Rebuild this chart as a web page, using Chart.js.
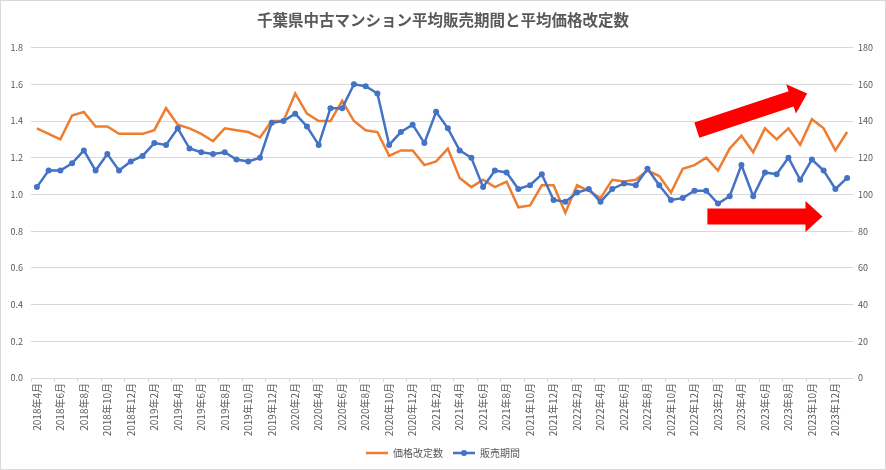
<!DOCTYPE html>
<html lang="ja">
<head>
<meta charset="utf-8">
<title>千葉県中古マンション平均販売期間と平均価格改定数</title>
<script src="https://cdn.jsdelivr.net/npm/chart.js@4.4.1/dist/chart.umd.min.js"></script>
<style>
  html, body { margin: 0; background: #fff; }
  canvas { display: block; }
</style>
</head>
<body>
<canvas id="chart" width="886" height="470"></canvas>
<script>
// ------------------------------------------------------------
// Data (monthly, 2018年4月 .. 2024年1月)
// ------------------------------------------------------------
const MONTHS = [
  '2018年4月', '2018年5月', '2018年6月', '2018年7月', '2018年8月', '2018年9月', '2018年10月', '2018年11月', '2018年12月',
  '2019年1月', '2019年2月', '2019年3月', '2019年4月', '2019年5月', '2019年6月', '2019年7月', '2019年8月', '2019年9月', '2019年10月', '2019年11月', '2019年12月',
  '2020年1月', '2020年2月', '2020年3月', '2020年4月', '2020年5月', '2020年6月', '2020年7月', '2020年8月', '2020年9月', '2020年10月', '2020年11月', '2020年12月',
  '2021年1月', '2021年2月', '2021年3月', '2021年4月', '2021年5月', '2021年6月', '2021年7月', '2021年8月', '2021年9月', '2021年10月', '2021年11月', '2021年12月',
  '2022年1月', '2022年2月', '2022年3月', '2022年4月', '2022年5月', '2022年6月', '2022年7月', '2022年8月', '2022年9月', '2022年10月', '2022年11月', '2022年12月',
  '2023年1月', '2023年2月', '2023年3月', '2023年4月', '2023年5月', '2023年6月', '2023年7月', '2023年8月', '2023年9月', '2023年10月', '2023年11月', '2023年12月',
  '2024年1月',
];

// 価格改定数 (left axis)
const PRICE_REVISIONS = [
  1.36, 1.33, 1.30, 1.43, 1.45, 1.37, 1.37, 1.33, 1.33, 1.33,
  1.35, 1.47, 1.38, 1.36, 1.33, 1.29, 1.36, 1.35, 1.34, 1.31,
  1.40, 1.40, 1.55, 1.44, 1.40, 1.40, 1.51, 1.40, 1.35, 1.34,
  1.21, 1.24, 1.24, 1.16, 1.18, 1.25, 1.09, 1.04, 1.08, 1.04,
  1.07, 0.93, 0.94, 1.05, 1.05, 0.90, 1.05, 1.02, 0.98, 1.08,
  1.07, 1.08, 1.13, 1.10, 1.01, 1.14, 1.16, 1.20, 1.13, 1.25,
  1.32, 1.23, 1.36, 1.30, 1.36, 1.27, 1.41, 1.36, 1.24, 1.34,
];

// 販売期間 (right axis)
const SALES_PERIOD = [
  104, 113, 113, 117, 124, 113, 122, 113, 118, 121,
  128, 127, 136, 125, 123, 122, 123, 119, 118, 120,
  139, 140, 144, 137, 127, 147, 147, 160, 159, 155,
  127, 134, 138, 128, 145, 136, 124, 120, 104, 113,
  112, 103, 105, 111, 97, 96, 101, 103, 96, 103,
  106, 105, 114, 105, 97, 98, 102, 102, 95, 99,
  116, 99, 112, 111, 120, 108, 119, 113, 103, 109,
];

const TITLE = '千葉県中古マンション平均販売期間と平均価格改定数';

const ORANGE = '#ED7D31';
const BLUE = '#4472C4';
const TEXT = '#595959';
const GRID = '#d9d9d9';

Chart.defaults.font.family = '"Noto Sans CJK JP", "Noto Sans", sans-serif';

// Red trend arrows, anchored in data space: [from index, from value, to index, to value] (left axis)
const TREND_ARROWS = [
  [56.2, 1.35, 65.6, 1.55],
  [57.1, 0.88, 66.9, 0.88],
];

// White background + thin frame like the Excel chart area
const chartFrame = {
  id: 'chartFrame',
  beforeDraw(chart) {
    const { ctx, width, height } = chart;
    ctx.save();
    ctx.fillStyle = '#fff';
    ctx.fillRect(0, 0, width, height);
    ctx.strokeStyle = GRID;
    ctx.lineWidth = 1;
    ctx.strokeRect(0.5, 0.5, width - 1, height - 1);
    ctx.restore();
  }
};

const trendArrows = {
  id: 'trendArrows',
  afterDatasetsDraw(chart) {
    const { ctx, scales: { x, y } } = chart;
    ctx.save();
    ctx.fillStyle = '#ff0000';
    for (const [i0, v0, i1, v1] of TREND_ARROWS) {
      const x0 = x.getPixelForValue(i0), y0 = y.getPixelForValue(v0);
      const x1 = x.getPixelForValue(i1), y1 = y.getPixelForValue(v1);
      const len = Math.hypot(x1 - x0, y1 - y0);
      const ux = (x1 - x0) / len, uy = (y1 - y0) / len; // along
      const nx = -uy, ny = ux;                         // across
      const shaft = 8, head = 15.5, headLen = 17;
      const bx = x1 - ux * headLen, by = y1 - uy * headLen;
      ctx.beginPath();
      ctx.moveTo(x0 + nx * shaft, y0 + ny * shaft);
      ctx.lineTo(bx + nx * shaft, by + ny * shaft);
      ctx.lineTo(bx + nx * head, by + ny * head);
      ctx.lineTo(x1, y1);
      ctx.lineTo(bx - nx * head, by - ny * head);
      ctx.lineTo(bx - nx * shaft, by - ny * shaft);
      ctx.lineTo(x0 - nx * shaft, y0 - ny * shaft);
      ctx.closePath();
      ctx.fill();
    }
    ctx.restore();
  }
};

// Legend uses plain line samples; add the round marker on the series that has one
const LEGEND_LINE = 22;
const legendMarker = {
  id: 'legendMarker',
  afterDraw(chart) {
    const legend = chart.legend;
    const { ctx } = chart;
    legend.legendItems.forEach((item, k) => {
      const ds = chart.data.datasets[item.datasetIndex];
      if (!ds.pointRadius) return;
      const box = legend.legendHitBoxes[k];
      ctx.save();
      ctx.fillStyle = ds.borderColor;
      ctx.beginPath();
      ctx.arc(box.left + LEGEND_LINE / 2, box.top + box.height / 2, 3, 0, Math.PI * 2);
      ctx.fill();
      ctx.restore();
    });
  }
};

new Chart(document.getElementById('chart'), {
  type: 'line',
  data: {
    labels: MONTHS,
    datasets: [
      {
        label: '販売期間',
        data: SALES_PERIOD,
        yAxisID: 'y1',
        borderColor: BLUE,
        backgroundColor: BLUE,
        borderWidth: 2.5,
        pointRadius: 3,
        pointBorderWidth: 0,
        pointBackgroundColor: BLUE,
        tension: 0,
      },
      {
        label: '価格改定数',
        data: PRICE_REVISIONS,
        yAxisID: 'y',
        borderColor: ORANGE,
        backgroundColor: ORANGE,
        borderWidth: 2.5,
        pointRadius: 0,
        tension: 0,
      },
    ],
  },
  options: {
    responsive: false,
    animation: false,
    layout: { padding: { bottom: 2 } },
    scales: {
      x: {
        offset: true,
        grid: {
          offset: true,
          drawOnChartArea: false,
          tickLength: 4,
          color: c => (c.index % 2 === 0 ? GRID : 'transparent'),
        },
        border: { display: false },
        ticks: {
          autoSkip: false,
          minRotation: 90,
          maxRotation: 90,
          padding: 1,
          color: TEXT,
          font: { size: 10 },
          callback: (v, i) => (i % 2 === 0 ? MONTHS[i] : ''),
        },
        afterFit: s => { s.height = 60; },
      },
      y: {
        position: 'left',
        min: 0,
        max: 1.8,
        ticks: { stepSize: 0.2, padding: 8, color: TEXT, font: { size: 9 }, callback: v => v.toFixed(1) },
        grid: { color: GRID, drawTicks: false },
        border: { display: false },
        afterFit: s => { s.width = 31; },
      },
      y1: {
        position: 'right',
        min: 0,
        max: 180,
        ticks: { stepSize: 20, padding: 5, color: TEXT, font: { size: 9 } },
        grid: { drawOnChartArea: false, drawTicks: false },
        border: { display: false },
        afterFit: s => { s.width = 33; },
      },
    },
    plugins: {
      title: {
        display: true,
        text: TITLE,
        color: TEXT,
        font: { size: 15.5, weight: 'bold' },
        padding: { top: 11, bottom: 18 },
      },
      legend: {
        position: 'bottom',
        labels: {
          usePointStyle: true,
          pointStyle: 'line',
          pointStyleWidth: LEGEND_LINE,
          color: TEXT,
          font: { size: 10 },
          padding: 10,
          // line sample in each series' own colour and width
          generateLabels: chart => Chart.defaults.plugins.legend.labels.generateLabels(chart).map(item => {
            const ds = chart.data.datasets[item.datasetIndex];
            return { ...item, lineWidth: ds.borderWidth, strokeStyle: ds.borderColor, fillStyle: ds.borderColor };
          }),
          sort: (a, b) => b.datasetIndex - a.datasetIndex,
        },
      },
      tooltip: { enabled: false },
    },
  },
  plugins: [chartFrame, trendArrows, legendMarker],
});
</script>
</body>
</html>
